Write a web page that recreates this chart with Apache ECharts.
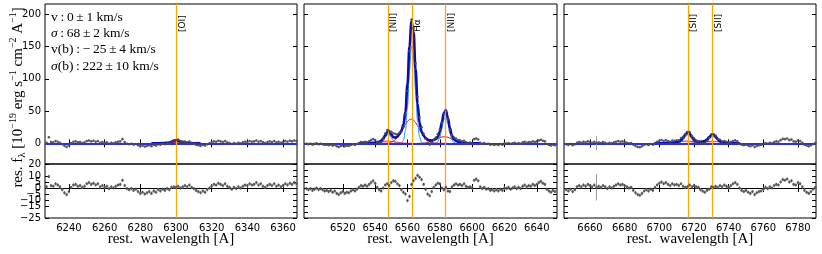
<!DOCTYPE html>
<html><head><meta charset="utf-8">
<script src="https://cdn.jsdelivr.net/npm/echarts@6/dist/echarts.min.js"></script>
<style>html,body{margin:0;padding:0;background:#fff}#c{width:822px;height:254px}</style>
</head><body><div id="c"></div>
<script>
// ---------------- DATA ----------------
const pixelStep = 1.25;           // spectral sampling [A]
const p1Start = 6227.5, p2Start = 6497.5, p3Start = 6646.25;
const typicalErr = 1.5;
const errExceptions = [[6663.75, 11]];   // masked sky residual

const xTicks1 = [6240, 6260, 6280, 6300, 6320, 6340, 6360];
const xTicks2 = [6520, 6540, 6560, 6580, 6600, 6620, 6640];
const xTicks3 = [6660, 6680, 6700, 6720, 6740, 6760, 6780];
const yTicksMain = [0, 50, 100, 150, 200];
const yTicksRes = [-25, -20, -15, -10, -5, 0, 5, 10, 15, 20];

const lineWl1 = [6300.3], lineNames1 = ['[OI]'];
const lineWl2 = [6548.05, 6562.8, 6583.45], lineNames2 = ['[NII]', 'Hα', '[NII]'];
const lineWl3 = [6716.44, 6730.82], lineNames3 = ['[SII]', '[SII]'];

const statsText = ['v\u2009:\u20090\u2009±\u20091 km/s', 'σ\u2009:\u200968\u2009±\u20092 km/s', 'v(b)\u2009:\u2009−\u200925\u2009±\u20094 km/s', 'σ(b)\u2009:\u2009222\u2009±\u200910 km/s'];

const flux1 = [1.0,9.5,2.0,1.5,3.5,2.5,1.0,-1.5,-4.0,-5.5,
-3.0,0.5,2.5,3.0,1.5,2.0,0.5,1.5,3.5,4.5,
3.0,4.0,2.5,3.5,1.0,2.0,0.5,1.5,-0.5,1.0,
0.0,1.5,2.5,3.0,6.5,2.0,-0.5,-1.5,-0.5,-2.0,
-1.0,-3.0,-4.5,-3.5,-5.0,-4.0,-3.0,-4.5,-2.5,-3.5,
-1.35,-2.25,-0.6,-1.45,0.35,-0.15,2.9,4.8,5.2,5.75,
2.9,2.65,2.85,1.55,2.8,0.7,-0.4,-2.0,-3.0,-4.0,
-2.5,-3.5,-1.5,0.0,1.5,3.0,2.5,4.0,3.0,2.0,
3.5,1.5,0.5,-1.0,0.5,-0.5,1.0,0.0,1.5,2.5,
2.0,3.5,2.5,3.0,4.5,2.5,3.5,1.5,0.5,2.0,
3.0,2.0,3.5,1.5,2.5,1.0,2.0,3.5,2.5,4.0,
3.0,4.5,3.5];
const res1 = [1.0,9.5,2.0,1.5,3.5,2.5,1.0,-1.5,-4.0,-5.5,
-3.0,0.5,2.5,3.0,1.5,2.0,0.5,1.5,3.5,4.5,
3.0,4.0,2.5,3.5,1.0,2.0,0.5,1.5,-0.5,1.0,
0.0,1.5,2.5,3.0,6.5,2.0,-0.5,-1.5,-0.5,-2.0,
-1.0,-3.0,-4.5,-3.5,-5.0,-4.0,-3.0,-4.5,-2.5,-3.5,
-1.5,-2.5,-1.0,-2.0,-0.5,-1.5,0.5,1.0,0.5,1.5,
0.0,1.0,2.0,1.0,2.5,0.5,-0.5,-2.0,-3.0,-4.0,
-2.5,-3.5,-1.5,0.0,1.5,3.0,2.5,4.0,3.0,2.0,
3.5,1.5,0.5,-1.0,0.5,-0.5,1.0,0.0,1.5,2.5,
2.0,3.5,2.5,3.0,4.5,2.5,3.5,1.5,0.5,2.0,
3.0,2.0,3.5,1.5,2.5,1.0,2.0,3.5,2.5,4.0,
3.0,4.5,3.5];

const flux2 = [-0.5,-1.5,-0.5,-2.0,-1.0,0.0,-1.5,-0.5,-1.5,-2.5,
-2.0,-3.0,-2.0,-3.5,-2.5,-4.5,-5.5,-4.0,-3.0,-4.5,
-3.5,-4.0,-2.5,-1.5,-2.5,-1.0,0.5,2.0,1.5,2.5,
1.7,3.3,5.0,6.7,5.1,2.1,0.9,1.5,7.4,15.2,
20.7,19.3,18.0,15.7,14.4,14.1,16.3,18.2,25.5,44.4,
81.0,143.1,191.8,178.6,123.7,72.3,40.4,25.1,14.9,7.1,
0.8,-1.9,1.5,5.5,9.1,14.1,21.6,32.2,45.4,51.2,
37.3,20.6,13.0,8.9,7.5,5.1,4.6,3.0,4.1,1.8,
0.6,1.1,0.0,6.5,7.5,6.0,1.0,-0.5,0.5,-1.0,
-0.5,-2.0,-1.5,-2.5,-1.5,-2.5,-1.0,-2.0,0.0,-0.5,
0.5,-1.0,0.0,1.0,-0.5,0.5,-0.5,1.5,2.5,1.0,
2.0,1.5,3.0,2.0,3.0,4.5,5.5,4.0,3.0,-1.0,
-2.5,-3.5,-2.0,-3.0];
const res2 = [-0.5,-1.5,-0.5,-2.0,-1.0,0.0,-1.5,-0.5,-1.5,-2.5,
-2.0,-3.0,-2.0,-3.5,-2.5,-4.5,-5.5,-4.0,-3.0,-4.5,
-3.5,-4.0,-2.5,-1.5,-2.5,-1.0,0.5,2.0,1.5,2.5,
1.5,3.0,4.5,6.0,4.0,0.5,-1.5,-2.5,0.0,2.5,
3.5,2.0,4.5,6.0,5.5,3.5,2.0,-1.5,-3.5,-5.0,
-10.5,-7.0,3.0,6.0,8.0,10.5,9.0,7.0,3.0,-1.0,
-5.0,-6.5,-3.0,0.5,2.5,4.0,3.5,0.0,-1.5,0.5,
-2.5,-3.0,1.0,2.5,3.5,2.5,3.0,2.0,3.5,1.5,
0.5,1.0,0.0,6.5,7.5,6.0,1.0,-0.5,0.5,-1.0,
-0.5,-2.0,-1.5,-2.5,-1.5,-2.5,-1.0,-2.0,0.0,-0.5,
0.5,-1.0,0.0,1.0,-0.5,0.5,-0.5,1.5,2.5,1.0,
2.0,1.5,3.0,2.0,3.0,4.5,5.5,4.0,3.0,-1.0,
-2.5,-3.5,-2.0,-3.0];

const flux3 = [-1.5,-2.5,-1.0,-3.0,-1.5,1.0,2.0,1.0,2.5,1.5,
3.0,2.0,1.0,2.5,0.5,1.5,0.5,2.0,1.0,-0.5,
1.0,0.0,1.5,2.5,3.5,2.5,3.0,2.0,1.0,0.0,
0.5,-2.0,-4.0,-5.5,-6.0,-4.5,-2.5,-1.5,-2.5,-1.0,
-2.0,0.5,2.5,4.0,5.1,3.6,4.7,3.4,2.6,4.4,
3.8,4.9,4.8,8.3,10.2,14.2,17.6,17.4,11.2,7.8,
4.5,3.2,1.0,0.3,0.15,3.9,8.6,14.0,14.0,11.9,
6.8,5.4,2.9,3.75,2.3,1.0,2.3,3.7,4.6,3.0,
0.0,-2.0,-3.0,-2.0,-3.5,-4.5,-3.0,-5.5,-4.0,-3.0,
-2.5,-1.0,0.5,-0.5,1.0,0.0,2.0,3.0,2.5,5.0,
7.0,6.5,7.5,5.0,6.0,3.0,2.5,4.5,3.5,1.0,
-2.0,-3.5,-4.5,-3.0,-1.0,0.5];
const res3 = [-1.5,-2.5,-1.0,-3.0,-1.5,1.0,2.0,1.0,2.5,1.5,
3.0,2.0,1.0,2.5,0.5,1.5,0.5,2.0,1.0,-0.5,
1.0,0.0,1.5,2.5,3.5,2.5,3.0,2.0,1.0,0.0,
0.5,-2.0,-4.0,-5.5,-6.0,-4.5,-2.5,-1.5,-2.5,-1.0,
-2.0,0.5,2.5,4.0,5.0,3.5,4.5,3.0,2.0,3.5,
2.5,3.0,2.0,3.5,1.5,0.5,1.0,2.5,1.0,2.0,
1.0,0.5,-1.5,-2.5,-3.5,-2.0,-1.0,1.0,0.5,1.5,
0.5,2.0,1.0,2.5,1.5,0.5,2.0,3.5,4.5,3.0,
0.0,-2.0,-3.0,-2.0,-3.5,-4.5,-3.0,-5.5,-4.0,-3.0,
-2.5,-1.0,0.5,-0.5,1.0,0.0,2.0,3.0,2.5,5.0,
7.0,6.5,7.5,5.0,6.0,3.0,2.5,4.5,3.5,1.0,
-2.0,-3.5,-4.5,-3.0,-1.0,0.5];

// fitted model curves: [wavelength, flux]
const total1 = [[6286.25,0],[6290,0.15],[6291.25,0.25],[6292.5,0.4],[6293.75,0.55],[6295,0.85],[6296.25,1.35],[6297.5,2.4],[6298.75,3.8],[6300,4.7],[6301.25,4.25],[6302.5,2.9],[6303.75,1.65],[6305,0.85],[6306.25,0.55],[6307.5,0.3],[6308.75,0.2],[6310,0.1],[6313.75,0]];
const narrowOI = [[6293.75,0],[6295,0.1],[6296.25,0.45],[6297.5,1.3],[6298.75,2.6],[6300,3.5],[6301.25,3.1],[6302.5,1.9],[6303.75,0.8],[6305,0.2],[6306.25,0.04],[6307.5,0]];
const broadOI = [[6286.25,0],[6290,0.15],[6291.25,0.25],[6292.5,0.4],[6293.75,0.55],[6295,0.75],[6296.25,0.9],[6297.5,1.1],[6298.75,1.2],[6300,1.2],[6301.25,1.15],[6302.5,1.0],[6303.75,0.85],[6305,0.65],[6306.25,0.5],[6307.5,0.3],[6308.75,0.2],[6310,0.1],[6313.75,0]];

const total2 = [[6530,0],[6535,0.2],[6536.25,0.3],[6537.5,0.5],[6538.75,0.7],[6540,1.1],[6541.25,1.6],[6542.5,2.4],[6543.75,4.0],[6545,7.4],[6546.25,12.7],[6547.5,17.2],[6548.75,17.3],[6550,13.5],[6551.25,9.7],[6552.5,8.9],[6553.75,10.6],[6555,14.3],[6556.25,19.7],[6557.5,29.0],[6558.75,49.4],[6560,91.5],[6561.25,150.1],[6562.5,188.8],[6563.75,172.6],[6565,115.7],[6566.25,61.8],[6567.5,31.4],[6568.75,18.1],[6570,11.9],[6571.25,8.1],[6572.5,5.8],[6573.75,4.6],[6575,4.5],[6576.25,5.0],[6577.5,6.6],[6578.75,10.1],[6580,18.1],[6581.25,32.2],[6582.5,46.9],[6583.75,50.7],[6585,39.8],[6586.25,23.6],[6587.5,12.0],[6588.75,6.4],[6590,4.0],[6591.25,2.6],[6592.5,1.6],[6593.75,1.0],[6595,0.6],[6596.25,0.3],[6597.5,0.1],[6600,0],[6605,0]];
const narrowHa = [[6553.75,0],[6555,0.1],[6556.25,0.7],[6557.5,4.6],[6558.75,19.7],[6560,57.4],[6561.25,113.3],[6562.5,151.3],[6563.75,136.7],[6565,83.5],[6566.25,34.6],[6567.5,9.7],[6568.75,1.8],[6570,0.2],[6571.25,0]];
const narrowN1 = [[6540,0],[6541.25,0],[6542.5,0.3],[6543.75,1.4],[6545,4.3],[6546.25,9.2],[6547.5,13.3],[6548.75,13.0],[6550,8.6],[6551.25,3.8],[6552.5,1.2],[6553.75,0.2],[6555,0]];
const narrowN2 = [[6575,0],[6576.25,0],[6577.5,0.5],[6578.75,2.6],[6580,9.3],[6581.25,22.4],[6582.5,36.6],[6583.75,40.5],[6585,30.4],[6586.25,15.4],[6587.5,5.3],[6588.75,1.2],[6590,0.2],[6591.25,0]];
const broadHa = [[6540,0],[6545,0.1],[6546.25,0.2],[6547.5,0.5],[6548.75,1.0],[6550,1.9],[6551.25,3.3],[6552.5,5.6],[6553.75,8.8],[6555,13.1],[6556.25,18.3],[6557.5,23.9],[6558.75,29.4],[6560,33.9],[6561.25,36.8],[6562.5,37.5],[6563.75,35.9],[6565,32.2],[6566.25,27.2],[6567.5,21.6],[6568.75,16.1],[6570,11.3],[6571.25,7.4],[6572.5,4.6],[6573.75,2.7],[6575,1.5],[6576.25,0.7],[6577.5,0.4],[6578.75,0.2],[6580,0.1],[6585,0]];
const broadN1 = [[6532.5,0],[6535,0.15],[6536.25,0.3],[6537.5,0.5],[6538.75,0.7],[6540,1.1],[6541.25,1.6],[6542.5,2.1],[6543.75,2.6],[6545,3.0],[6546.25,3.3],[6547.5,3.4],[6548.75,3.3],[6550,3.0],[6551.25,2.6],[6552.5,2.1],[6553.75,1.6],[6555,1.1],[6556.25,0.7],[6557.5,0.5],[6558.75,0.3],[6560,0.15],[6562.5,0]];
const broadN2 = [[6566.25,0],[6567.5,0.1],[6568.75,0.2],[6570,0.4],[6571.25,0.7],[6572.5,1.2],[6573.75,1.9],[6575,3.0],[6576.25,4.3],[6577.5,5.7],[6578.75,7.3],[6580,8.7],[6581.25,9.8],[6582.5,10.3],[6583.75,10.2],[6585,9.4],[6586.25,8.2],[6587.5,6.7],[6588.75,5.2],[6590,3.8],[6591.25,2.6],[6592.5,1.6],[6593.75,1.0],[6595,0.6],[6596.25,0.3],[6597.5,0.1],[6600,0]];

const total3 = [[6697.5,0],[6700,0],[6701.25,0.1],[6702.5,0.1],[6703.75,0.2],[6705,0.4],[6706.25,0.6],[6707.5,0.9],[6708.75,1.3],[6710,1.9],[6711.25,2.8],[6712.5,4.8],[6713.75,8.7],[6715,13.7],[6716.25,16.6],[6717.5,14.9],[6718.75,10.2],[6720,5.8],[6721.25,3.5],[6722.5,2.7],[6723.75,2.5],[6725,2.8],[6726.25,3.65],[6727.5,5.9],[6728.75,9.6],[6730,13.0],[6731.25,13.5],[6732.5,10.4],[6733.75,6.3],[6735,3.4],[6736.25,1.9],[6737.5,1.25],[6738.75,0.8],[6740,0.5],[6741.25,0.3],[6742.5,0.2],[6743.75,0.1],[6746.25,0]];
const narrowS1 = [[6708.75,0],[6710,0.1],[6711.25,0.5],[6712.5,2.0],[6713.75,5.5],[6715,10.2],[6716.25,13.0],[6717.5,11.4],[6718.75,6.9],[6720,2.9],[6721.25,0.8],[6722.5,0.2],[6723.75,0]];
const narrowS2 = [[6723.75,0],[6725,0.2],[6726.25,0.9],[6727.5,2.8],[6728.75,6.3],[6730,9.7],[6731.25,10.3],[6732.5,7.5],[6733.75,3.8],[6735,1.3],[6736.25,0.3],[6737.5,0.05],[6738.75,0]];
const broadS1 = [[6700,0],[6701.25,0.1],[6702.5,0.1],[6703.75,0.2],[6705,0.4],[6706.25,0.6],[6707.5,0.9],[6708.75,1.3],[6710,1.8],[6711.25,2.3],[6712.5,2.8],[6713.75,3.2],[6715,3.45],[6716.25,3.5],[6717.5,3.33],[6718.75,3.0],[6720,2.5],[6721.25,2.0],[6722.5,1.5],[6723.75,1.1],[6725,0.7],[6726.25,0.45],[6727.5,0.26],[6728.75,0.15],[6730,0.08],[6732.5,0]];
const broadS2 = [[6713.75,0],[6715,0.04],[6716.25,0.07],[6717.5,0.14],[6718.75,0.25],[6720,0.42],[6721.25,0.67],[6722.5,1.0],[6723.75,1.4],[6725,1.9],[6726.25,2.3],[6727.5,2.8],[6728.75,3.1],[6730,3.2],[6731.25,3.14],[6732.5,2.9],[6733.75,2.5],[6735,2.1],[6736.25,1.6],[6737.5,1.2],[6738.75,0.8],[6740,0.5],[6741.25,0.3],[6742.5,0.2],[6743.75,0.1],[6746.25,0]];

// ---------------- LAYOUT / STYLE ----------------
const panels = [
  {left: 45, width: 252, xMin: 6226.6, xMax: 6367.8, ticks: xTicks1, start: p1Start, flux: flux1, res: res1,
   total: total1, narrow: [narrowOI], broad: [broadOI], lines: lineWl1, names: lineNames1},
  {left: 304, width: 253, xMin: 6496, xMax: 6652.5, ticks: xTicks2, start: p2Start, flux: flux2, res: res2,
   total: total2, narrow: [narrowN1, narrowHa, narrowN2], broad: [broadN1, broadHa, broadN2], lines: lineWl2, names: lineNames2},
  {left: 564, width: 252, xMin: 6645, xMax: 6790.4, ticks: xTicks3, start: p3Start, flux: flux3, res: res3,
   total: total3, narrow: [narrowS1, narrowS2], broad: [broadS1, broadS2], lines: lineWl3, names: lineNames3}
];
const mainTop = 4, mainH = 160, resTop = 164, resH = 54;
const yMainMin = -32, yMainMax = 216, yResMin = -25, yResMax = 20;
const TICK_FONT = 'DejaVu Sans', SERIF = 'Liberation Serif';
const fmt = v => (v < 0 ? '\u2212' + (-v) : String(v));

function errOf(x) {
  for (const e of errExceptions) if (Math.abs(e[0] - x) < 0.01) return e[1];
  return typicalErr;
}
function pts(p, arr) { return arr.map((v, i) => { const x = p.start + i * pixelStep; return [x, v, errOf(x)]; }); }

const grid = [], xAxis = [], yAxis = [], series = [];
function xAx(g, p, pos, lab) {
  return {type: 'value', gridIndex: g, min: p.xMin, max: p.xMax, position: pos,
    axisLine: {show: false}, splitLine: {show: false},
    axisTick: {show: true, inside: true, length: 4, lineStyle: {color: '#000', width: 1}, customValues: p.ticks},
    axisLabel: {show: lab, customValues: p.ticks, color: '#000', fontFamily: TICK_FONT, fontSize: 10, margin: 5,
      hideOverlap: false, showMinLabel: true, showMaxLabel: true, formatter: fmt}};
}
function yAx(g, min, max, ticks, pos, lab) {
  return {type: 'value', gridIndex: g, min, max, position: pos,
    axisLine: {show: false}, splitLine: {show: false},
    axisTick: {show: true, inside: true, length: 4, lineStyle: {color: '#000', width: 1}, customValues: ticks},
    axisLabel: {show: lab, customValues: ticks, color: '#000', fontFamily: TICK_FONT, fontSize: 10, margin: 4,
      hideOverlap: false, showMinLabel: true, showMaxLabel: true, formatter: fmt}};
}
const errRender = (col) => function (params, api) {
  const x = api.value(0), y = api.value(1), e = api.value(2);
  const a = api.coord([x, y - e]), b = api.coord([x, y + e]);
  return {type: 'line', shape: {x1: a[0], y1: a[1], x2: b[0], y2: b[1]}, style: {stroke: col, lineWidth: 1}};
};

panels.forEach((p, i) => {
  const gm = 2 * i, gr = 2 * i + 1;
  grid.push({left: p.left, top: mainTop, width: p.width, height: mainH, show: true, borderColor: '#000', borderWidth: 1, backgroundColor: 'transparent'});
  grid.push({left: p.left, top: resTop, width: p.width, height: resH, show: true, borderColor: '#000', borderWidth: 1, backgroundColor: 'transparent'});
  xAxis.push(xAx(gm, p, 'bottom', false), xAx(gm, p, 'top', false), xAx(gr, p, 'bottom', true), xAx(gr, p, 'top', false));
  yAxis.push(yAx(gm, yMainMin, yMainMax, yTicksMain, 'left', i === 0), yAx(gm, yMainMin, yMainMax, yTicksMain, 'right', false),
             yAx(gr, yResMin, yResMax, yTicksRes, 'left', i === 0), yAx(gr, yResMin, yResMax, yTicksRes, 'right', false));
  const xm = 4 * i, xr = 4 * i + 2;
  const base = {silent: true, animation: false};
  series.push(Object.assign({type: 'line', xAxisIndex: xm, yAxisIndex: xm, data: [], z: 1,
    markLine: {silent: true, symbol: ['none', 'none'], animation: false, label: {show: false},
      lineStyle: {color: '#2b2bff', width: 2, type: 'solid'}, data: [{yAxis: 0}]}}, base));
  p.broad.forEach(b => series.push(Object.assign({type: 'line', xAxisIndex: xm, yAxisIndex: xm, data: b, z: 2,
    showSymbol: false, smooth: 0.4, smoothMonotone: 'x', lineStyle: {color: '#ff0000', width: 1}}, base)));
  p.narrow.forEach(b => series.push(Object.assign({type: 'line', xAxisIndex: xm, yAxisIndex: xm, data: b, z: 3,
    showSymbol: false, smooth: 0.4, smoothMonotone: 'x', lineStyle: {color: '#1e90ff', width: 1}}, base)));
  series.push(Object.assign({type: 'line', xAxisIndex: xm, yAxisIndex: xm, data: p.total, z: 4,
    showSymbol: false, smooth: 0.4, smoothMonotone: 'x', lineStyle: {color: '#0b0bb0', width: 2.6}}, base));
  const vlines = {silent: true, symbol: ['none', 'none'], animation: false, label: {show: false},
    lineStyle: {color: '#ffa500', width: 1.3, type: 'solid'}, data: p.lines.map(l => ({xAxis: l}))};
  series.push(Object.assign({type: 'line', xAxisIndex: xm, yAxisIndex: xm, data: [], z: 5, markLine: vlines}, base));
  series.push(Object.assign({type: 'custom', xAxisIndex: xm, yAxisIndex: xm, data: pts(p, p.flux), z: 6, clip: true,
    renderItem: errRender('#9a9a9a')}, base));
  series.push(Object.assign({type: 'scatter', xAxisIndex: xm, yAxisIndex: xm, data: pts(p, p.flux), z: 7,
    symbol: 'circle', symbolSize: 2.6, itemStyle: {color: '#404040'}}, base));
  series.push(Object.assign({type: 'line', xAxisIndex: xr, yAxisIndex: xr, data: [], z: 1,
    markLine: {silent: true, symbol: ['none', 'none'], animation: false, label: {show: false},
      lineStyle: {color: '#000', width: 1, type: 'solid'}, data: [{yAxis: 0}]}}, base));
  series.push(Object.assign({type: 'line', xAxisIndex: xr, yAxisIndex: xr, data: [], z: 5,
    markLine: Object.assign({}, vlines)}, base));
  series.push(Object.assign({type: 'custom', xAxisIndex: xr, yAxisIndex: xr, data: pts(p, p.res), z: 6, clip: true,
    renderItem: errRender('#9a9a9a')}, base));
  series.push(Object.assign({type: 'scatter', xAxisIndex: xr, yAxisIndex: xr, data: pts(p, p.res), z: 7,
    symbol: 'circle', symbolSize: 2.6, itemStyle: {color: '#404040'}}, base));
});

const chart = echarts.init(document.getElementById('c'), null, {renderer: 'canvas', width: 822, height: 254});
chart.setOption({animation: false, backgroundColor: '#fff', grid, xAxis, yAxis, series});

// ---------------- TEXT ----------------
const graphic = [];
panels.forEach((p, i) => {
  p.lines.forEach((l, j) => {
    const px = chart.convertToPixel({xAxisIndex: 4 * i}, l);
    graphic.push({type: 'text', x: px + 6, y: 32, rotation: Math.PI / 2, silent: true,
      style: {text: p.names[j], font: '9px "DejaVu Sans"', fill: '#000', align: 'left', verticalAlign: 'middle'}});
  });
  graphic.push({type: 'text', x: p.left + p.width / 2, y: 239, silent: true,
    style: {text: 'rest.  wavelength [A]', font: '15px "' + SERIF + '"', fill: '#000', align: 'center', verticalAlign: 'middle'}});
});
statsText.forEach((t, k) => {
  const rich = t.replace(/σ/g, '{i|σ}');
  graphic.push({type: 'text', x: 51, y: 17 + k * 16.4, silent: true,
    style: {text: rich, font: '13.5px "' + SERIF + '"', fill: '#000', align: 'left', verticalAlign: 'middle',
      rich: {i: {fontFamily: SERIF, fontSize: 13.5, fontStyle: 'italic'}}}});
});
graphic.push({type: 'text', x: 18, y: 85, rotation: Math.PI / 2, silent: true,
  style: {text: '{m|f}{sub|λ}{m| [10}{sup|−19}{m| erg s}{sup|−1}{m| cm}{sup|−2}{m| A}{sup|−1}{m|]}',
    align: 'center', verticalAlign: 'middle', fill: '#000',
    rich: {m: {fontFamily: SERIF, fontSize: 15, lineHeight: 20, verticalAlign: 'middle'},
           sup: {fontFamily: SERIF, fontSize: 10, lineHeight: 8, verticalAlign: 'top'},
           sub: {fontFamily: SERIF, fontSize: 11, lineHeight: 10, verticalAlign: 'bottom'}}}});
graphic.push({type: 'text', x: 18, y: 177, rotation: Math.PI / 2, silent: true,
  style: {text: 'res.', font: '15px "' + SERIF + '"', fill: '#000', align: 'center', verticalAlign: 'middle'}});
chart.setOption({graphic});
</script></body></html>
